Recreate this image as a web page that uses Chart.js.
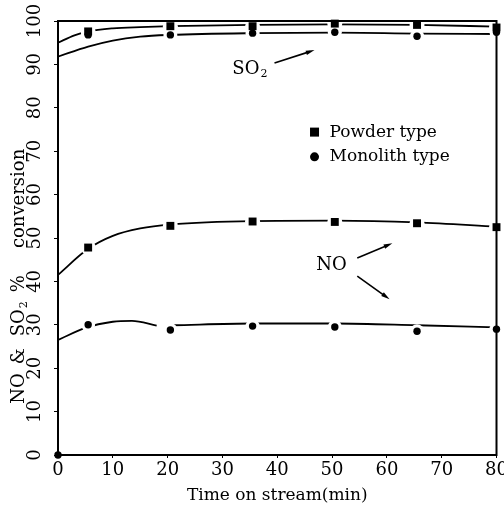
<!DOCTYPE html>
<html>
<head>
<meta charset="utf-8">
<script src="https://cdn.jsdelivr.net/npm/chart.js@4.4.0/dist/chart.umd.min.js"></script>
<style>
html, body { margin: 0; padding: 0; background: #fff; }
#wrap { width: 504px; height: 510px; }
</style>
</head>
<body>
<div id="wrap"><canvas id="chartCanvas" width="504" height="510"></canvas></div>
<script>
// measured conversions (%) at each sampling time (min)
const sampleTimes = [5.5, 20.5, 35.5, 50.5, 65.5, 80];
const powderSO2 = [97.6, 98.8, 98.8, 99.4, 99.1, 98.5];
const monolithSO2 = [96.8, 96.8, 97.2, 97.4, 96.5, 97.4];
const powderNO = [47.8, 52.8, 53.8, 53.7, 53.4, 52.5];
const monolithNO = [30.0, 28.8, 29.7, 29.5, 28.5, 29.0];
const originPoint = [[0, 0]];

// hand-drawn trend curves, [time, conversion]
const powderSO2Curve = [[0, 95], [3, 96.7], [5.5, 97.6], [10, 98.3], [15, 98.6], [20.5, 98.8], [35.5, 99.1], [50.5, 99.2], [65.5, 99.1], [80, 98.7]];
const monolithSO2Curve = [[0, 91.8], [5.5, 94.1], [10, 95.5], [15, 96.4], [20.5, 96.8], [35.5, 97.2], [50.5, 97.3], [65.5, 97.1], [80, 97.0]];
const powderNOCurve = [[0, 41.5], [5.5, 47.5], [10, 50.5], [15, 52.2], [20.5, 53.1], [35.5, 53.9], [50.5, 54.0], [65.5, 53.6], [80, 52.6]];
const monolithNOCurve = [[0, 26.5], [5, 29.3], [10, 30.7], [13.5, 30.9], [18, 29.8], [19.5, null], [21, 29.9], [35.5, 30.3], [50.5, 30.3], [65.5, 29.9], [80, 29.4]];

const xTicks = [0, 10, 20, 30, 40, 50, 60, 70, 80];
const yTicks = [0, 10, 20, 30, 40, 50, 60, 70, 80, 90, 100];

const FONT = "'DejaVu Serif', 'Liberation Serif', serif";

function toPoints(xs, ys) {
    return xs.map((x, i) => ({ x: x, y: ys[i] }));
}

function curveDataset(pairs) {
    return {
        data: pairs.map(p => ({ x: p[0], y: p[1] })),
        showLine: true,
        borderColor: "#000",
        borderWidth: 1.8,
        pointRadius: 0,
        cubicInterpolationMode: "monotone",
        spanGaps: false,
        order: 5
    };
}

// white disc behind each marker so the curves break around it
function haloDataset(ys, r) {
    return {
        data: toPoints(sampleTimes, ys),
        showLine: false,
        pointStyle: "circle",
        pointRadius: r,
        pointBackgroundColor: "#fff",
        pointBorderWidth: 0,
        clip: false,
        order: 3
    };
}

function markerDataset(ys, style, r) {
    return {
        data: toPoints(sampleTimes, ys),
        showLine: false,
        pointStyle: style,
        pointRadius: r,
        pointBackgroundColor: "#000",
        pointBorderColor: "#000",
        pointBorderWidth: 0,
        clip: false,
        order: 1
    };
}

function arrow(ctx, xs, ys, x0, y0, x1, y1) {
    const px0 = xs.getPixelForValue(x0), py0 = ys.getPixelForValue(y0);
    const px1 = xs.getPixelForValue(x1), py1 = ys.getPixelForValue(y1);
    const ang = Math.atan2(py1 - py0, px1 - px0);
    ctx.lineWidth = 1.6;
    ctx.beginPath();
    ctx.moveTo(px0, py0);
    ctx.lineTo(px1 - 5 * Math.cos(ang), py1 - 5 * Math.sin(ang));
    ctx.stroke();
    ctx.beginPath();
    ctx.moveTo(px1, py1);
    ctx.lineTo(px1 - 9 * Math.cos(ang - 0.25), py1 - 9 * Math.sin(ang - 0.25));
    ctx.lineTo(px1 - 9 * Math.cos(ang + 0.25), py1 - 9 * Math.sin(ang + 0.25));
    ctx.closePath();
    ctx.fill();
}

// "SO" followed by a small lowered 2, starting at x; returns the width used
function drawSO2(ctx, x, y, size) {
    ctx.textAlign = "left";
    ctx.font = size + "px " + FONT;
    const w1 = ctx.measureText("SO").width;
    ctx.fillText("SO", x, y);
    ctx.font = Math.round(size * 0.6) + "px " + FONT;
    const w2 = ctx.measureText("2").width;
    ctx.fillText("2", x + w1 + 1, y + size * 0.28);
    return w1 + w2 + 1;
}

// frame, legend, axis title and the SO2 / NO arrows
const decorPlugin = {
    id: "decor",
    afterDatasetsDraw(chart) {
        const ctx = chart.ctx;
        const a = chart.chartArea;
        const xs = chart.scales.x;
        const ys = chart.scales.y;
        ctx.save();
        ctx.strokeStyle = "#000";
        ctx.fillStyle = "#000";
        ctx.lineWidth = 2;
        ctx.strokeRect(a.left, a.top, a.right - a.left, a.bottom - a.top);

        // legend
        ctx.font = "17px " + FONT;
        ctx.textBaseline = "middle";
        ctx.textAlign = "left";
        const lx = xs.getPixelForValue(46.8);
        const ly1 = ys.getPixelForValue(74.4);
        const ly2 = ys.getPixelForValue(68.7);
        ctx.fillRect(lx - 4.5, ly1 - 4.5, 9, 9);
        ctx.beginPath();
        ctx.arc(lx, ly2, 4.5, 0, Math.PI * 2);
        ctx.fill();
        ctx.fillText("Powder type", lx + 15, ly1);
        ctx.fillText("Monolith type", lx + 15, ly2);

        // curve labels
        drawSO2(ctx, xs.getPixelForValue(31.8), ys.getPixelForValue(88.9), 18);
        ctx.textAlign = "center";
        ctx.font = "18px " + FONT;
        ctx.fillText("NO", xs.getPixelForValue(49.9), ys.getPixelForValue(43.8));

        arrow(ctx, xs, ys, 39.5, 90.3, 46.8, 93.3);
        arrow(ctx, xs, ys, 54.6, 45.4, 61.0, 48.8);
        arrow(ctx, xs, ys, 54.6, 41.2, 60.5, 35.9);

        // vertical axis title, reading upwards
        ctx.save();
        ctx.translate(19, ys.getPixelForValue(11.8));
        ctx.rotate(-Math.PI / 2);
        ctx.textAlign = "left";
        ctx.font = "18px " + FONT;
        let tx = 0;
        ctx.fillText("NO", tx, 0);
        tx += ctx.measureText("NO").width + 9;
        ctx.fillText("&", tx, 0);
        tx += ctx.measureText("&").width + 12;
        tx += drawSO2(ctx, tx, 0, 18) + 9;
        ctx.font = "18px " + FONT;
        ctx.fillText("%", tx, 0);
        tx += ctx.measureText("%").width + 27;
        ctx.fillText("conversion", tx, 0);
        ctx.restore();
        ctx.restore();
    }
};

const ctx = document.getElementById("chartCanvas").getContext("2d");
const chart = new Chart(ctx, {
    type: "scatter",
    data: {
        datasets: [
            curveDataset(powderSO2Curve),
            curveDataset(monolithSO2Curve),
            curveDataset(powderNOCurve),
            curveDataset(monolithNOCurve),
            haloDataset(powderSO2, 7.5),
            haloDataset(monolithSO2, 7),
            haloDataset(powderNO, 7.5),
            haloDataset(monolithNO, 7),
            markerDataset(powderSO2, "rect", 5.6),
            markerDataset(monolithSO2, "circle", 3.7),
            markerDataset(powderNO, "rect", 5.6),
            markerDataset(monolithNO, "circle", 3.7),
            {
                data: originPoint.map(p => ({ x: p[0], y: p[1] })),
                showLine: false,
                pointRadius: 3.7,
                pointBackgroundColor: "#000",
                pointBorderWidth: 0,
                clip: false,
                order: 0
            }
        ]
    },
    options: {
        responsive: false,
        animation: false,
        layout: { padding: { top: 21, right: 7, left: 0, bottom: 0 } },
        plugins: {
            legend: { display: false },
            tooltip: { enabled: false }
        },
        scales: {
            x: {
                type: "linear",
                min: 0,
                max: 80,
                afterBuildTicks: s => { s.ticks = xTicks.map(v => ({ value: v })); },
                afterFit: s => { s.height = 55; s.paddingLeft = 0; s.paddingRight = 0; },
                ticks: {
                    color: "#000",
                    font: { family: FONT, size: 18 },
                    padding: 2,
                    maxRotation: 0
                },
                grid: { drawOnChartArea: false, tickLength: 3, color: "#000" },
                border: { display: true, color: "#000", width: 2 },
                title: {
                    display: true,
                    text: "Time on stream(min)",
                    color: "#000",
                    font: { family: FONT, size: 17 },
                    padding: { top: 0, bottom: 4 }
                }
            },
            y: {
                type: "linear",
                min: 0,
                max: 100,
                afterBuildTicks: s => { s.ticks = yTicks.map(v => ({ value: v })); },
                afterFit: s => { s.width = 58; s.paddingTop = 0; s.paddingBottom = 0; },
                ticks: {
                    color: "#000",
                    font: { family: FONT, size: 18 },
                    minRotation: 90,
                    maxRotation: 90,
                    crossAlign: "center",
                    padding: 1
                },
                grid: { drawOnChartArea: false, tickLength: 4, color: "#000" },
                border: { display: true, color: "#000", width: 2 },
                title: { display: false }
            }
        }
    },
    plugins: [decorPlugin]
});
</script>
</body>
</html>
